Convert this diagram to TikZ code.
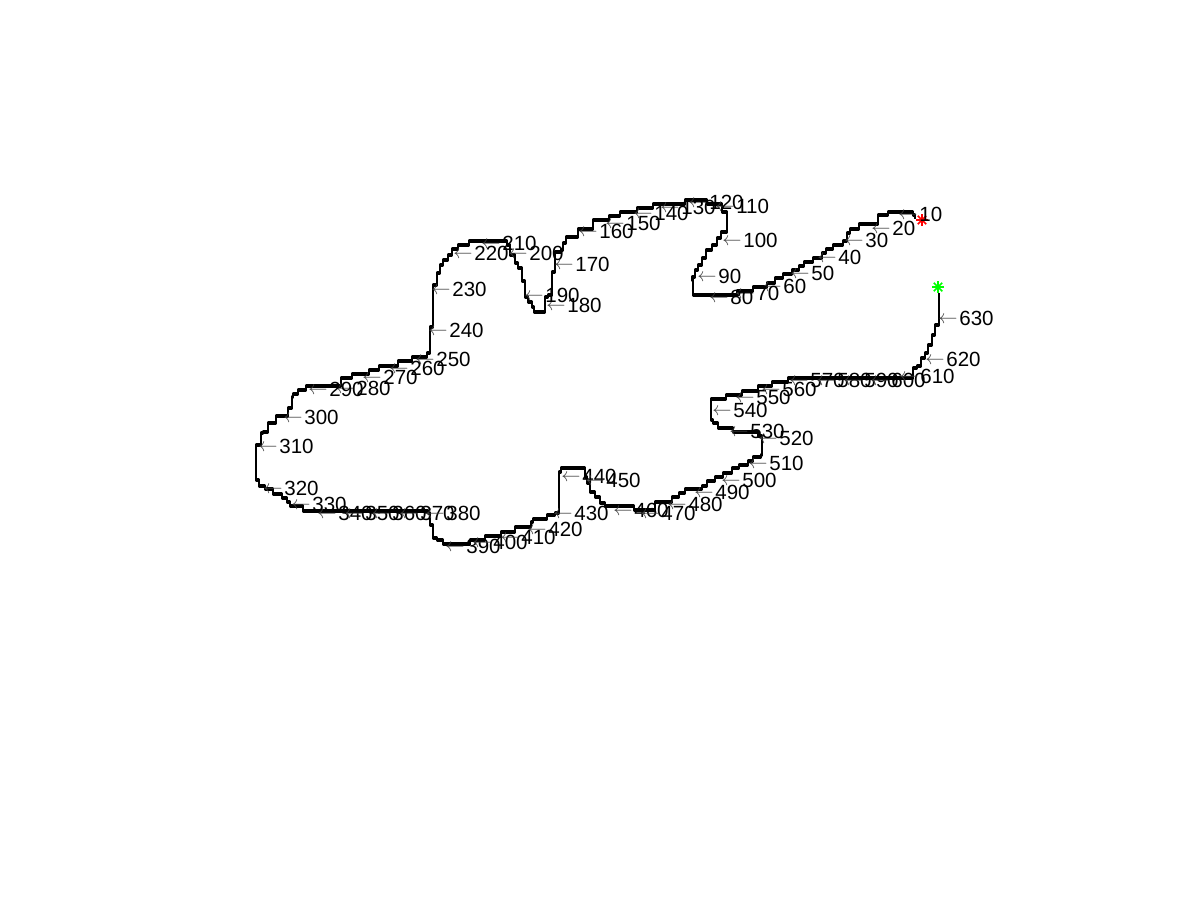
\documentclass[tikz,border=0pt]{standalone}
\usepackage{fontspec}
\setmainfont{Liberation Sans}
\usepackage{tikz}
\usetikzlibrary{calc}

\begin{document}
\begin{tikzpicture}[
            x=0.75pt,y=-0.75pt,
            contour-line/.style={line width=2.1pt,miter limit=1,line join=miter},
            step-label/.style={anchor=base west,inner sep=0pt,yshift=-5.25pt,font=\fontsize{15.4}{15.4}\selectfont},
            end-star/.style={line width=1.1pt,line cap=butt},
        ]
            \useasboundingbox (0,0) rectangle (1200,900);

            % the outline, run by run, each run ends where the next one steps off
            \foreach \dy in {-0.5,0.5}
            \draw[contour-line,yshift=\dy*0.75pt] (915,218) |- (913,215) |- (888,212) |- (878,215) |- (875,224) |- (859,224) |- (850,229) |- (847,233)
                |- (843,241) |- (833,245) |- (826,249) |- (822,253) |- (813,258) |- (804,262) |- (799,266) |- (792,270) |- (783,274) |- (775,278)
                |- (767,283) |- (753,287) |- (737,291) |- (720,295) |- (693,295) |- (692,280) |- (695,277) |- (698,270) |- (702,265) |- (706,258)
                |- (712,250) |- (717,245) |- (721,238) |- (727,232) |- (727,215) |- (722,212) |- (720,204) |- (707,204) |- (685,200) |- (653,204)
                |- (637,208) |- (620,212) |- (609,216) |- (593,220) |- (590,229) |- (578,229) |- (575,237) |- (566,237) |- (563,243) |- (561,250)
                |- (555,252) |- (555,272) |- (552,272) |- (552,290) |- (548,295) |- (545,297) |- (545,310) |- (544,312) |- (534,312) |- (532,307)
                |- (528,302) |- (525,297) |- (525,282) |- (522,281) |- (522,273) |- (518,268) |- (515,263) |- (510,255) |- (507,245) |- (503,241)
                |- (469,241) |- (458,245) |- (452,249) |- (448,255) |- (443,260) |- (440,265) |- (440,272) |- (437,273) |- (437,282) |- (433,285)
                |- (433,327) |- (430,327) |- (430,350) |- (427,353) |- (425,357) |- (412,357) |- (398,361) |- (379,366) |- (369,370) |- (352,374)
                |- (341,378) |- (337,386) |- (306,386) |- (298,390) |- (293,394) |- (292,397) |- (292,405) |- (288,408) |- (284,416) |- (276,416)
                |- (274,423) |- (268,423) |- (263,432) |- (261,433) |- (261,442) |- (256,445) |- (256,475) |- (259,480) |- (265,486) |- (268,489)
                |- (273,489) |- (274,494) |- (282,494) |- (287,498) |- (290,502) |- (293,506) |- (303,506) |- (304,511) |- (428,511) |- (430,513)
                |- (430,523) |- (433,525) |- (433,533) |- (437,538) |- (443,540) |- (470,544) |- (485,540) |- (501,536) |- (515,532) |- (531,527)
                |- (533,522) |- (536,519) |- (547,519) |- (555,515) |- (559,513) |- (559,480) |- (561,472) |- (563,468) |- (585,468) |- (587,477)
                |- (590,483) |- (595,492) |- (600,497) |- (605,503) |- (608,506) |- (634,506) |- (655,510) |- (672,502) |- (679,497) |- (685,493)
                |- (702,489) |- (707,486) |- (715,481) |- (723,477) |- (732,473) |- (739,468) |- (748,465) |- (753,461) |- (761,457) |- (762,455)
                |- (762,438) |- (758,436) |- (757,432) |- (733,432) |- (718,428) |- (713,423) |- (711,420) |- (711,400) |- (726,399) |- (742,395)
                |- (758,391) |- (772,386) |- (788,382) |- (913,378) |- (917,368) |- (921,366) |- (925,358) |- (928,353) |- (928,347) |- (932,345)
                |- (932,338) |- (935,335) |- (935,327) |- (939,325) |- (939,293);

            % start and end of the trace
            \coordinate (start) at (922,220);
            \coordinate (end) at (938,287);
            \foreach \ang in {0,45,90,135} {
                \draw[end-star,red] ($(start)+(\ang:6)$) -- ($(start)+(\ang+180:6)$);
                \draw[end-star,green] ($(end)+(\ang:6)$) -- ($(end)+(\ang+180:6)$);
            }

            % every tenth point
            \foreach \px/\py/\lab in {
                899/214/10,872/228/20,845/240/30,818/257/40,791/273/50,763/286/60,736/293/70,710/297/80,
                698/276/90,723/240/100,716/206/110,689/202/120,661/207/130,634/213/140,606/223/150,579/231/160,
                555/264/170,547/305/180,525/295/190,509/253/200,482/243/210,454/253/220,432/289/230,429/330/240,
                416/359/250,390/368/260,363/377/270,336/388/280,309/389/290,284/417/300,259/446/310,264/488/320,
                292/504/330,318/513/340,345/513/350,372/513/360,400/513/370,426/513/380,446/546/390,473/542/400,
                501/537/410,528/529/420,554/513/430,562/476/440,586/480/450,614/510/460,641/513/470,668/504/480,
                695/492/490,722/480/500,749/463/510,759/438/520,730/431/530,713/410/540,736/397/550,762/389/560,
                790/380/570,817/380/580,844/380/590,871/380/600,900/376/610,926/359/620,939/318/630}
                \node[step-label] (l\lab) at (\px-1,\py) {\raisebox{1.5pt}{\color{black!75}$\leftarrow$}\kern1.4pt\lab};
        \end{tikzpicture}
\end{document}
